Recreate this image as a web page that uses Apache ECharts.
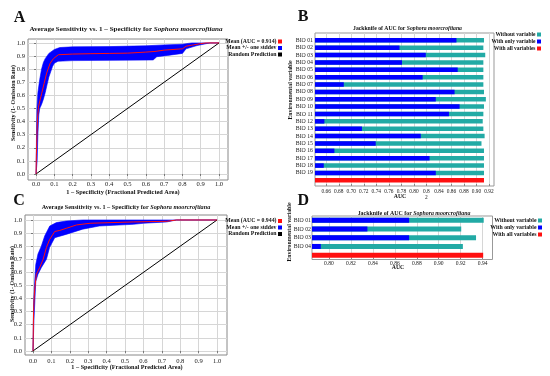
<!DOCTYPE html>
<html><head><meta charset="utf-8">
<script src="https://cdn.jsdelivr.net/npm/echarts@6/dist/echarts.min.js"></script>
<style>html,body{margin:0;padding:0;background:#fff}#c{width:550px;height:376px}</style>
</head><body><div id="c"></div>
<script>
const SERIF = '"Liberation Serif","Times New Roman",serif';
const BLUE = '#0000ff', RED = '#ff1010', TEAL = '#22aaa5';

// ---------- Panel A : ROC (training) ----------
const rocTickLabels = ['0.0','0.1','0.2','0.3','0.4','0.5','0.6','0.7','0.8','0.9','1.0'];
const aMeanName = 'Mean (AUC = 0.914)';
const aMeanX = [0,0.002,0.005,0.008,0.013,0.022,0.031,0.044,0.058,0.077,0.095,0.122,0.2,0.3,0.4,0.5,0.6,0.65,0.7,0.8,0.82,0.86,0.9,0.93,1.0];
const aMeanY = [0,0.15,0.3,0.42,0.51,0.565,0.616,0.69,0.77,0.845,0.88,0.91,0.915,0.918,0.92,0.922,0.93,0.935,0.945,0.955,0.975,0.985,0.995,1.0,1.0];
const aUpperX = [0,0.003,0.005,0.01,0.02,0.03,0.04,0.05,0.07,0.1,0.13,0.2,0.4,0.6,0.7,0.8,0.85,1.0];
const aUpperY = [0,0.35,0.5,0.62,0.72,0.8,0.85,0.88,0.92,0.95,0.965,0.97,0.972,0.978,0.985,0.99,1.0,1.0];
const aLowerX = [0,0.006,0.01,0.015,0.02,0.03,0.04,0.05,0.06,0.07,0.08,0.09,0.1,0.12,0.2,0.4,0.64,0.66,0.72,0.8,0.82,0.88,0.95,1.0];
const aLowerY = [0,0.1,0.3,0.45,0.5,0.53,0.57,0.62,0.68,0.74,0.78,0.82,0.845,0.86,0.865,0.867,0.87,0.895,0.905,0.92,0.955,0.98,1.0,1.0];

// ---------- Panel C : ROC ----------
const cMeanName = 'Mean (AUC = 0.944)';
const cMeanX = [0,0.003,0.008,0.018,0.036,0.055,0.073,0.09,0.118,0.145,0.18,0.236,0.31,0.545,0.727,0.78,1.0];
const cMeanY = [0,0.3,0.45,0.585,0.636,0.70,0.79,0.85,0.912,0.92,0.936,0.962,0.975,0.985,0.99,1.0,1.0];
const cUpperX = [0,0.003,0.007,0.015,0.027,0.045,0.064,0.091,0.127,0.18,0.27,1.0];
const cUpperY = [0,0.35,0.48,0.66,0.74,0.80,0.88,0.954,0.98,0.992,1.0,1.0];
const cLowerX = [0,0.005,0.015,0.027,0.045,0.073,0.09,0.118,0.18,0.27,0.36,0.545,0.6,0.727,0.78,1.0];
const cLowerY = [0,0.23,0.53,0.585,0.636,0.70,0.79,0.865,0.89,0.93,0.954,0.967,0.975,0.985,1.0,1.0];

const randomX = [0,1];
const randomY = [0,1];
const bandName = 'Mean +/- one stddev';
const randomName = 'Random Prediction';

// ---------- Panel B : Jackknife (19 variables) ----------
const bVars = ['BIO 01','BIO 02','BIO 03','BIO 04','BIO 05','BIO 06','BIO 07','BIO 08','BIO 09','BIO 10','BIO 11','BIO 12','BIO 13','BIO 14','BIO 15','BIO 16','BIO 17','BIO 18','BIO 19'];
const bWithout = [0.912,0.911,0.914,0.911,0.911,0.911,0.911,0.912,0.915,0.912,0.911,0.910,0.911,0.913,0.908,0.912,0.912,0.912,0.912];
const bWithOnly = [0.868,0.777,0.819,0.781,0.870,0.814,0.688,0.865,0.835,0.873,0.856,0.657,0.717,0.811,0.739,0.673,0.825,0.656,0.835];
const bAll = 0.912;
const bTickLabels = ['0.66','0.68','0.70','0.72','0.74','0.76','0.78','0.80','0.8\n2','0.84','0.86','0.88','0.90','0.92'];
const bTickVals = [0.66,0.68,0.70,0.72,0.74,0.76,0.78,0.80,0.82,0.84,0.86,0.88,0.90,0.92];

// ---------- Panel D : Jackknife (4 variables) ----------
const dVars = ['BIO 01','BIO 02','BIO 03','BIO 04'];
const dWithout = [0.941,0.9205,0.934,0.922];
const dWithOnly = [0.873,0.835,0.873,0.7925];
const dAll = 0.9405;
const dTickLabels = ['0.80','0.82','0.84','0.86','0.88','0.90','0.92','0.94'];
const dTickVals = [0.80,0.82,0.84,0.86,0.88,0.90,0.92,0.94];

const jkNames = ['Without variable','With only variable','With all variables'];
const speciesTitleA = 'Average Sensitivity vs. 1 – Specificity for ';
const speciesTitleB = 'Jackknife of AUC for ';
const species = 'Sophora moorcroftiana';

// ---------------- helpers ----------------
const zip = (xs, ys) => xs.map((x, i) => [x, ys[i]]);
const rocTickVals = rocTickLabels.map(parseFloat);
const labelOf = (vals, labels) => v => { const i = vals.findIndex(t => Math.abs(t - v) < 1e-6); return i < 0 ? '' : labels[i]; };

function rocAxis(gi, min, max, fs, margin) {
  return { type:'value', gridIndex:gi, min, max,
    axisLine:{show:false},
    axisTick:{show:true, customValues:rocTickVals, length:2, lineStyle:{color:'#777'}},
    axisLabel:{customValues:rocTickVals, formatter:labelOf(rocTickVals, rocTickLabels), fontSize:fs, fontFamily:SERIF, color:'#222', margin},
    splitLine:{show:true, lineStyle:{color:'#d6d6d6', width:1}} };
}
function aucAxis(gi, min, max, vals, labels, fs, margin) {
  return { type:'value', gridIndex:gi, min, max,
    axisLine:{show:false},
    axisTick:{show:true, inside:true, customValues:vals, length:2, lineStyle:{color:'#888'}},
    axisLabel:{customValues:vals, formatter:labelOf(vals, labels), fontSize:fs, lineHeight:6, fontFamily:SERIF, color:'#222', margin},
    splitLine:{show:true, lineStyle:{color:'#d6d6d6', width:1}} };
}
function catAxis(gi, cats, fs, margin) {
  return { type:'category', gridIndex:gi, data:cats, inverse:true,
    axisLine:{show:false}, axisTick:{show:false},
    axisLabel:{interval:0, fontSize:fs, fontFamily:SERIF, color:'#222', margin} };
}
function band(name, xi, yi, upper, lower) {
  return { type:'custom', name, xAxisIndex:xi, yAxisIndex:yi, data:[[0,0]], clip:true, z:2,
    itemStyle:{color:BLUE},
    renderItem(params, api) {
      const pts = upper.map(p => api.coord(p)).concat(lower.slice().reverse().map(p => api.coord(p)));
      return { type:'polygon', shape:{points:pts}, style:{fill:BLUE, stroke:BLUE, lineWidth:0.6} };
    } };
}
function line(name, xi, yi, data, color, z) {
  return { type:'line', name, xAxisIndex:xi, yAxisIndex:yi, data, symbol:'none', showSymbol:false, z,
    lineStyle:{color, width:1}, itemStyle:{color}, clip:true };
}
function bars(xi, yi, n, without, only, all, bw) {
  const pad = Array(n).fill('-');
  return [
    { type:'bar', name:jkNames[0], xAxisIndex:xi, yAxisIndex:yi, data:without.concat(['-']), barWidth:bw, barGap:'-100%', itemStyle:{color:TEAL}, clip:true },
    { type:'bar', name:jkNames[1], xAxisIndex:xi, yAxisIndex:yi, data:only.concat(['-']), barWidth:bw, barGap:'-100%', itemStyle:{color:BLUE}, clip:true },
    { type:'bar', name:jkNames[2], xAxisIndex:xi, yAxisIndex:yi, data:pad.concat([all]), barWidth:bw, barGap:'-100%', itemStyle:{color:RED}, clip:true }
  ];
}
function leg(name, right, top, fs) {
  return { data:[name], right, top, orient:'vertical', align:'right', icon:'rect', itemWidth:4, itemHeight:4,
    itemGap:0, padding:0, selectedMode:false,
    textStyle:{fontFamily:SERIF, fontWeight:'bold', fontSize:fs, color:'#111', padding:[0,-3.5,0,0]} };
}
function txt(x, y, text, fs, opts) {
  opts = opts || {};
  return { type:'text', x, y, rotation:opts.rot || 0, silent:true,
    style:{ text, fontFamily:SERIF, fontSize:fs, fontWeight:opts.weight || 'bold', fill:'#111',
      align:'center', verticalAlign:'middle',
      rich:{ i:{fontFamily:SERIF, fontSize:fs, fontWeight:'bold', fontStyle:'italic', fill:'#111'} } } };
}

const option = {
  animation:false,
  backgroundColor:'#fff',
  grid:[
    {left:28, top:39, width:200, height:141, show:true, borderColor:'#888', borderWidth:1},
    {left:315, top:33, width:179, height:153, show:true, borderColor:'#999', borderWidth:1},
    {left:315, top:36.6, width:179, height:147.4},
    {left:25, top:215, width:202, height:140, show:true, borderColor:'#888', borderWidth:1},
    {left:312, top:216, width:180.5, height:43.5, show:true, borderColor:'#999', borderWidth:1}
  ],
  xAxis:[
    rocAxis(0, -0.044, 1.049, 6.6, 1),
    aucAxis(1, 0.642, 0.928, bTickVals, bTickLabels, 5.4, 3),
    {type:'value', gridIndex:2, min:0.642, max:0.928, show:false},
    rocAxis(3, -0.0435, 1.054, 6.6, 2.5),
    aucAxis(4, 0.7845, 0.949, dTickVals, dTickLabels, 5.6, 1.5)
  ],
  yAxis:[
    rocAxis(0, -0.046, 1.03, 6.6, 3),
    {type:'value', gridIndex:1, min:0, max:1, show:false},
    catAxis(2, bVars.concat(['']), 5.8, 2),
    rocAxis(3, -0.031, 1.038, 6.6, 3),
    catAxis(4, dVars.concat(['']), 5.8, 1)
  ],
  legend:[
    leg(aMeanName, 268, 38.5, 5.8), leg(bandName, 268, 45, 5.8), leg(randomName, 268, 51.5, 5.8),
    leg(cMeanName, 268, 218, 5.8), leg(bandName, 268, 224.5, 5.8), leg(randomName, 268, 231, 5.8),
    leg(jkNames[0], 9, 31.5, 5.5), leg(jkNames[1], 9, 38.5, 5.5), leg(jkNames[2], 9, 45.5, 5.5),
    leg(jkNames[0], 8, 217.5, 5.8), leg(jkNames[1], 8, 224.5, 5.8), leg(jkNames[2], 8, 231.5, 5.8)
  ],
  series:[
    band(bandName, 0, 0, zip(aUpperX, aUpperY), zip(aLowerX, aLowerY)),
    line(aMeanName, 0, 0, zip(aMeanX, aMeanY), RED, 4),
    line(randomName, 0, 0, zip(randomX, randomY), '#000', 3),
    band(bandName, 3, 3, zip(cUpperX, cUpperY), zip(cLowerX, cLowerY)),
    line(cMeanName, 3, 3, zip(cMeanX, cMeanY), RED, 4),
    line(randomName, 3, 3, zip(randomX, randomY), '#000', 3),
    ...bars(2, 2, bVars.length, bWithout, bWithOnly, bAll, 4.5),
    ...bars(4, 4, dVars.length, dWithout, dWithOnly, dAll, 5)
  ],
  graphic:[
    txt(19.5, 17.5, 'A', 16), txt(303, 17, 'B', 16), txt(19, 200.8, 'C', 16), txt(303.3, 200.5, 'D', 16),
    txt(126, 29.3, speciesTitleA + '{i|' + species + '}', 7.1),
    txt(126, 207.3, speciesTitleA + '{i|' + species + '}', 6.2),
    txt(407.5, 28.3, speciesTitleB + '{i|' + species + '}', 5.7),
    txt(414, 213, speciesTitleB + '{i|' + species + '}', 5.9),
    txt(123, 192, '1 – Specificity (Fractional Predicted Area)', 6.3),
    txt(127, 367.3, '1 – Specificity (Fractional Predicted Area)', 6.2),
    txt(13.5, 103, 'Sensitivity (1- Omission Rate)', 6, {rot:Math.PI/2}),
    txt(12, 284, 'Sensitivity (1- Omission Rate)', 6, {rot:Math.PI/2}),
    txt(291, 90, 'Environmental variable', 5.8, {rot:Math.PI/2}),
    txt(290, 232, 'Environmental variable', 5.8, {rot:Math.PI/2}),
    txt(400, 197, 'AUC', 5.8), txt(398, 268, 'AUC', 5.8)
  ]
};
const chart = echarts.init(document.getElementById('c'), null, {renderer:'canvas'});
chart.setOption(option);
</script></body></html>
